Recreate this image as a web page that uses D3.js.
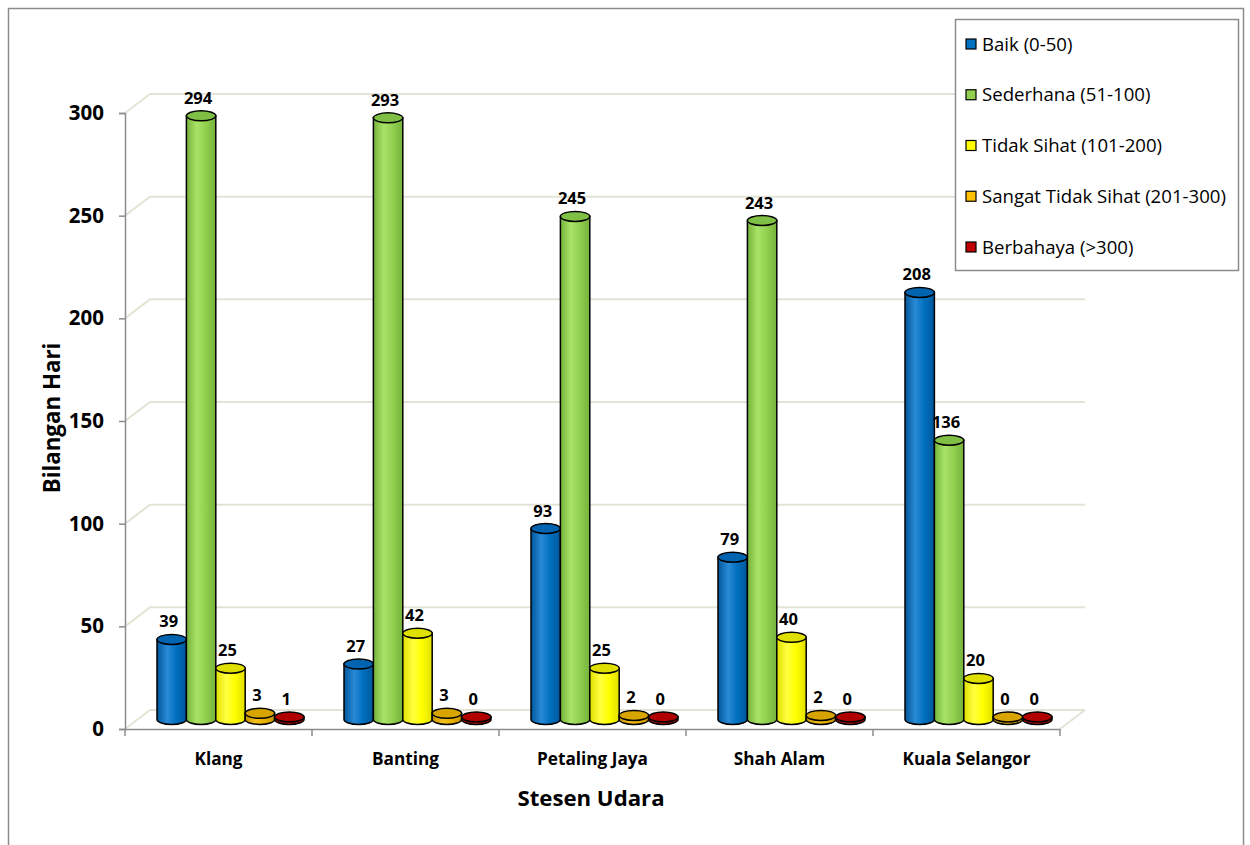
<!DOCTYPE html>
<html><head><meta charset="utf-8">
<script src="https://cdn.jsdelivr.net/npm/d3@7"></script>
<style>
html,body{margin:0;padding:0;background:#fff;}
svg{display:block;font-family:"Open Sans",sans-serif;}
</style></head>
<body>
<svg id="chart" width="1250" height="845"></svg>
<script>
const categories = ["Klang","Banting","Petaling Jaya","Shah Alam","Kuala Selangor"];
const seriesNames = ["Baik (0-50)","Sederhana (51-100)","Tidak Sihat (101-200)","Sangat Tidak Sihat (201-300)","Berbahaya (>300)"];
const baik = [39,27,93,79,208];
const sederhana = [294,293,245,243,136];
const tidakSihat = [25,42,25,40,20];
const sangatTidakSihat = [3,3,2,2,0];
const berbahaya = [1,0,0,0,0];
const yTicks = [0,50,100,150,200,250,300];

const seriesValues = [baik,sederhana,tidakSihat,sangatTidakSihat,berbahaya];
const colors = [
  {base:"#0070C0", light:"#2a8ad6", dark:"#00569a", top:"#0064b0", legend:"#0070C0"},
  {base:"#92D050", light:"#a8e466", dark:"#74b23a", top:"#7fbf45", legend:"#92D050"},
  {base:"#FFFF00", light:"#ffff40", dark:"#e0e000", top:"#e0e000", legend:"#FFFF00"},
  {base:"#E8B000", light:"#f2c020", dark:"#c89400", top:"#d8a400", legend:"#FFC000"},
  {base:"#C00000", light:"#d41a1a", dark:"#960000", top:"#b00000", legend:"#C00000"}
];

const svg = d3.select("#chart");
const defs = svg.append("defs");
colors.forEach((c,i)=>{
  const g = defs.append("linearGradient").attr("id","g"+i).attr("x1","0%").attr("x2","100%").attr("y1","0%").attr("y2","0%");
  g.append("stop").attr("offset","0%").attr("stop-color",c.dark);
  g.append("stop").attr("offset","35%").attr("stop-color",c.light);
  g.append("stop").attr("offset","65%").attr("stop-color",c.base);
  g.append("stop").attr("offset","100%").attr("stop-color",c.dark);
});

// outer frame
svg.append("rect").attr("x",8.5).attr("y",8.5).attr("width",1235).attr("height",850)
  .attr("fill","none").attr("stroke","#8c8c8c").attr("stroke-width",1.5);

const x0 = d3.scaleBand().domain(categories).range([125,1060]);
const x1 = d3.scaleBand().domain(d3.range(seriesNames.length)).range([19.5,166.5]);
const y = d3.scaleLinear().domain([0,300]).range([729,113]);
const DX = 25, DY = -19; // depth

// back wall gridlines
const grid = svg.append("g");
yTicks.forEach(t=>{
  grid.append("path")
    .attr("d",`M${125},${y(t)} L${125+DX},${y(t)+DY} L${1060+DX},${y(t)+DY}`)
    .attr("fill","none").attr("stroke","#e4e4d6").attr("stroke-width",2);
});
// floor
grid.append("path")
  .attr("d",`M${1060},${y(0)} L${1060+DX},${y(0)+DY}`)
  .attr("fill","none").attr("stroke","#e4e4d6").attr("stroke-width",2);

// y axis
const yAxis = svg.append("g").attr("transform","translate(125,0)")
  .call(d3.axisLeft(y).tickValues(yTicks).tickSize(6).tickPadding(15));
yAxis.select(".domain").attr("stroke","#8c8c8c").attr("stroke-width",1.5);
yAxis.selectAll(".tick line").attr("stroke","#8c8c8c").attr("stroke-width",1.5);
yAxis.selectAll(".tick text").attr("font-size",20.5).attr("font-weight","bold").attr("fill","#000")
  .attr("font-family","'Open Sans',sans-serif");

// x axis
const xAxis = svg.append("g").attr("transform",`translate(0,${y(0)})`)
  .call(d3.axisBottom(x0).tickSize(0).tickPadding(24));
xAxis.select(".domain").attr("stroke","#8c8c8c").attr("stroke-width",1.5);
xAxis.selectAll(".tick text").attr("font-size",17.2).attr("font-weight","bold").attr("fill","#000")
  .attr("font-family","'Open Sans',sans-serif");
const edges = categories.map(c=>x0(c)).concat([x0.range()[1]]);
xAxis.selectAll(".edge").data(edges).enter().append("line")
  .attr("x1",d=>d).attr("x2",d=>d).attr("y1",0).attr("y2",7)
  .attr("stroke","#8c8c8c").attr("stroke-width",1.5);

// bars (cylinders)
const bw = x1.bandwidth();
const rx = bw/2, ry = 5;
const bars = svg.append("g");
categories.forEach((cat,ci)=>{
  seriesValues.forEach((vals,si)=>{
    const v = vals[ci];
    const cx = x0(cat) + x1(si) + bw/2 + DX/2;
    const yb = y(0) + DY/2;
    let yt = y(v) + DY/2;
    if (yb - yt < 2.5) yt = yb - 2.5;
    const g = bars.append("g");
    g.append("path")
      .attr("d",`M${cx-rx},${yt} L${cx-rx},${yb} A${rx},${ry} 0 0 0 ${cx+rx},${yb} L${cx+rx},${yt} Z`)
      .attr("fill",`url(#g${si})`).attr("stroke","#000").attr("stroke-width",1.5);
    g.append("ellipse").attr("cx",cx).attr("cy",yt).attr("rx",rx).attr("ry",ry)
      .attr("fill",colors[si].top).attr("stroke","#000").attr("stroke-width",1.5);
    svg.append("text").attr("x",cx-3).attr("y",yt-12).attr("text-anchor","middle")
      .attr("font-size",16.5).attr("font-weight","bold").attr("fill","#000").text(v);
  });
});

// axis titles
svg.append("text").attr("transform","translate(52,418) rotate(-90)").attr("text-anchor","middle")
  .attr("dy","0.35em")
  .attr("font-size",22.3).attr("font-weight","bold").text("Bilangan Hari");
svg.append("text").attr("x",591).attr("y",806).attr("text-anchor","middle")
  .attr("font-size",22.2).attr("font-weight","bold").text("Stesen Udara");

// legend
const lg = svg.append("g");
lg.append("rect").attr("x",955.5).attr("y",19.5).attr("width",283).attr("height",251)
  .attr("fill","#fff").attr("stroke","#8c8c8c").attr("stroke-width",1.5);
const ly = d3.scalePoint().domain(seriesNames).range([44,247]);
seriesNames.forEach((n,i)=>{
  lg.append("rect").attr("x",966).attr("y",ly(n)-5).attr("width",10).attr("height",10)
    .attr("fill",colors[i].legend).attr("stroke","#000").attr("stroke-width",1.2);
  lg.append("text").attr("x",982).attr("y",ly(n)+6.5).attr("font-size",18.6).attr("fill","#000").text(n);
});
</script>
</body></html>
